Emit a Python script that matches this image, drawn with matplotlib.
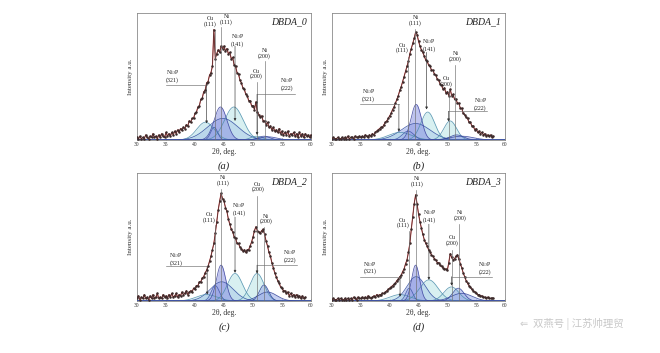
import numpy as np
import matplotlib
matplotlib.use("Agg")
import matplotlib.pyplot as plt

plt.rcParams['font.family'] = ['Liberation Serif', 'DejaVu Serif']
plt.rcParams['mathtext.fontset'] = 'stix'

# ---------------- data ----------------
x_start = 30.0
x_step = 0.25

int_a = [.02, .01, .03, .01, .02, .01, .04, .02, .01, .03, .02, .05, .02, .03, .01, .04,
         .02, .05, .03, .02, .06, .03, .05, .03, .06, .04, .07, .05, .08, .06, .09, .08,
         .10, .09, .12, .11, .15, .14, .17, .17, .21, .22, .26, .27, .32, .33, .38, .39,
         .45, .46, .51, .53, .58, .87, .64, .68, .71, .69, .74, .72, .74, .70, .72, .68,
         .69, .64, .65, .59, .58, .53, .52, .47, .45, .41, .40, .36, .35, .31, .31, .27,
         .27, .24, .30, .22, .20, .18, .19, .15, .15, .12, .14, .10, .11, .08, .10, .07,
         .08, .06, .09, .05, .07, .04, .06, .04, .07, .03, .05, .04, .06, .03, .05, .02,
         .06, .03, .05, .02, .05, .03, .04, .02, .04]

int_b = [.01, .02, .01, .01, .02, .01, .01, .02, .01, .02, .01, .03, .01, .02, .02, .01,
         .03, .02, .02, .03, .02, .03, .02, .04, .03, .02, .04, .03, .05, .04, .06, .07,
         .08, .09, .10, .10, .12, .14, .15, .17, .19, .21, .24, .26, .29, .32, .35, .39,
         .42, .46, .50, .54, .58, .62, .68, .72, .76, .80, .85, .83, .78, .74, .71, .69,
         .66, .63, .62, .59, .58, .55, .55, .52, .51, .48, .47, .44, .43, .40, .41, .37,
         .38, .35, .40, .35, .36, .32, .32, .29, .29, .25, .25, .21, .20, .18, .17, .14,
         .14, .11, .11, .08, .09, .06, .07, .05, .06, .04, .05, .03, .04, .03, .04, .02,
         .03]

int_c = [.02, .04, .01, .03, .02, .05, .02, .03, .01, .04, .02, .05, .02, .03, .06, .02,
         .03, .02, .05, .03, .04, .02, .05, .03, .06, .03, .04, .06, .03, .05, .04, .07,
         .05, .06, .08, .05, .07, .08, .07, .10, .09, .12, .12, .15, .15, .18, .19, .22,
         .24, .27, .31, .35, .40, .45, .53, .62, .71, .78, .84, .80, .78, .73, .70, .64,
         .60, .56, .54, .50, .49, .45, .45, .42, .41, .39, .40, .38, .40, .40, .43, .46,
         .50, .55, .58, .55, .54, .53, .55, .56, .52, .47, .43, .38, .35, .30, .26, .22,
         .19, .16, .14, .11, .10, .08, .08, .06, .07, .04, .06, .04, .05, .03, .05, .03,
         .04, .02, .04, .02, .03]

int_d = [.01, .02, .01, .01, .02, .01, .02, .01, .01, .02, .01, .02, .01, .02, .01, .03,
         .02, .01, .03, .02, .02, .03, .02, .03, .02, .04, .03, .02, .03, .04, .03, .05,
         .04, .05, .05, .06, .06, .07, .08, .09, .10, .11, .12, .13, .14, .16, .17, .19,
         .20, .23, .25, .29, .32, .38, .45, .56, .66, .76, .83, .76, .68, .62, .57, .52,
         .48, .45, .43, .40, .385, .36, .35, .33, .32, .30, .30, .28, .27, .26, .25, .25,
         .24, .30, .37, .34, .32, .33, .35, .36, .33, .29, .26, .22, .19, .16, .14, .12,
         .11, .09, .08, .07, .065, .05, .05, .04, .04, .03, .03, .02, .03, .02, .02, .02,
         .02]

# fitted peak components: Ni3P(321), Cu(111), Ni(111), Ni3P(141), Cu(200), Ni(200), Ni3P(222), broad
pk_center_a = [41.8, 43.3, 44.4, 46.7, 50.6, 51.9, 52.6, 44.8]
pk_height_a = [0.14, 0.10, 0.26, 0.26, 0.03, 0.03, 0.025, 0.17]
pk_width_a = [1.5, 0.6, 1.1, 1.6, 1.0, 1.0, 1.5, 2.6]

pk_center_b = [41.8, 43.2, 44.6, 46.6, 50.5, 51.6, 52.5, 44.5]
pk_height_b = [0.06, 0.07, 0.28, 0.22, 0.15, 0.04, 0.03, 0.13]
pk_width_b = [2.0, 1.0, 0.9, 1.2, 1.1, 1.2, 2.0, 2.5]

pk_center_c = [42.0, 43.5, 44.5, 46.9, 50.7, 51.9, 52.5, 44.6]
pk_height_c = [0.05, 0.12, 0.28, 0.215, 0.215, 0.125, 0.07, 0.15]
pk_width_c = [1.8, 0.7, 0.8, 1.3, 1.2, 0.8, 1.6, 2.0]

pk_center_d = [41.8, 43.4, 44.5, 46.8, 50.7, 51.9, 52.5, 44.6]
pk_height_d = [0.05, 0.10, 0.28, 0.165, 0.11, 0.10, 0.06, 0.19]
pk_width_d = [1.8, 0.6, 0.7, 1.6, 1.3, 1.0, 1.8, 1.6]

sample_names = ["DBDA_0", "DBDA_1", "DBDA_2", "DBDA_3"]
panel_letters = ["(a)", "(b)", "(c)", "(d)"]
peak_labels = ["Ni$_3$P\n(321)", "Cu\n(111)", "Ni\n(111)", "Ni$_3$P\n(141)",
               "Cu\n(200)", "Ni\n(200)", "Ni$_3$P\n(222)"]
x_ticks = [30, 35, 40, 45, 50, 55, 60]

# ---------------- layout / styling ----------------
W, H = 660, 353
fig = plt.figure(figsize=(W / 100, H / 100), dpi=100)

def fr(l, t, r, b):
    return [l / W, 1 - b / H, (r - l) / W, (b - t) / H]

rects = [fr(137, 13, 311, 140), fr(332, 13, 505, 140),
         fr(137, 173, 311, 301), fr(332, 173, 505, 301)]

fill_cols = ['#b6e0e8', '#9fb0e8', '#939ce4', '#bfe6e9', '#bfe6e9', '#9fb0e8', '#9fb0e8', '#99aae8']
edge_cols = ['#4f90ad', '#4158ab', '#3f46a0', '#4f90ad', '#4f90ad', '#33439b', '#33439b', '#3550a3']

# annotation layout per panel:
# each: (text_x, text_y, line_x, line_top, line_bottom, arrow, hx0, hx1)  (hx for elbow lines)
ann_layout = [
    [(36.1, 0.51, 42.0, 0.437, 0.13, True, 35.0, 42.0),
     (42.6, 0.935, 43.45, 0.86, 0.0, False, None, None),
     (45.45, 0.95, 44.4, 0.89, 0.0, False, None, None),
     (47.3, 0.79, 46.9, 0.74, 0.15, True, None, None),
     (50.6, 0.52, 50.7, 0.46, 0.0, False, None, None),
     (52.0, 0.68, 52.0, 0.62, 0.0, False, None, None),
     (55.9, 0.445, 50.7, 0.36, 0.04, True, 50.7, 57.3)],
    [(36.35, 0.36, 41.6, 0.28, 0.066, True, 34.8, 41.6),
     (42.1, 0.725, 43.2, 0.655, 0.0, False, None, None),
     (44.5, 0.94, 44.4, 0.875, 0.0, False, None, None),
     (46.85, 0.75, 46.4, 0.69, 0.24, True, None, None),
     (49.8, 0.46, 50.25, 0.39, 0.0, False, None, None),
     (51.4, 0.655, 51.4, 0.59, 0.0, False, None, None),
     (55.75, 0.29, 50.2, 0.225, 0.146, True, 50.2, 56.9)],
    [(36.7, 0.33, 42.1, 0.27, 0.05, True, 35.0, 42.1),
     (42.4, 0.655, 43.5, 0.59, 0.0, False, None, None),
     (44.8, 0.94, 44.5, 0.875, 0.0, False, None, None),
     (47.6, 0.72, 46.9, 0.655, 0.22, True, None, None),
     (50.8, 0.89, 50.7, 0.82, 0.0, False, None, None),
     (52.2, 0.64, 51.95, 0.575, 0.0, False, None, None),
     (56.3, 0.355, 50.7, 0.28, 0.215, True, 50.7, 57.6)],
    [(36.6, 0.265, 41.8, 0.19, 0.034, True, 34.9, 41.8),
     (42.25, 0.61, 43.4, 0.545, 0.0, False, None, None),
     (44.8, 0.935, 44.6, 0.87, 0.0, False, None, None),
     (46.9, 0.665, 46.8, 0.6, 0.165, True, None, None),
     (50.9, 0.47, 50.75, 0.40, 0.0, False, None, None),
     (52.2, 0.665, 52.1, 0.6, 0.0, False, None, None),
     (56.5, 0.26, 50.75, 0.19, 0.12, True, 50.75, 57.8)],
]

intens = [int_a, int_b, int_c, int_d]
centers = [pk_center_a, pk_center_b, pk_center_c, pk_center_d]
heights = [pk_height_a, pk_height_b, pk_height_c, pk_height_d]
widths = [pk_width_a, pk_width_b, pk_width_c, pk_width_d]

xg = np.linspace(30, 60, 601)
line_col = '#6e6e6e'

for i in range(4):
    ax = fig.add_axes(rects[i])
    y = np.array(intens[i])
    x = x_start + x_step * np.arange(len(y))

    # components
    order = [7, 0, 3, 4, 6, 5, 1, 2]
    for k in order:
        g = heights[i][k] * np.exp(-0.5 * ((xg - centers[i][k]) / widths[i][k]) ** 2)
        ax.fill_between(xg, 0, g, color=fill_cols[k], alpha=0.6, lw=0, zorder=2)
        ax.plot(xg, g, color=edge_cols[k], lw=0.55, alpha=0.9, zorder=3)

    # measured data + fit
    ax.plot(x, y, color='#d24a4a', lw=0.8, zorder=4)
    ax.plot(x, y, color='#3b2b2b', lw=0.45, marker='.', ms=1.6, zorder=5)

    # annotations
    for lab, (tx, ty, lx, ytop, ybot, arrow, hx0, hx1) in zip(peak_labels, ann_layout[i]):
        ax.text(tx, ty, lab, ha='center', va='center', fontsize=4.3, linespacing=1.0,
                color='#222222', zorder=7)
        if hx0 is not None:
            ax.plot([hx0, hx1], [ytop, ytop], color=line_col, lw=0.45, zorder=6)
        if arrow:
            ax.annotate('', xy=(lx, ybot), xytext=(lx, ytop),
                        arrowprops=dict(arrowstyle='-|>', lw=0.45, color='#333333',
                                        mutation_scale=3.5, shrinkA=0, shrinkB=0), zorder=6)
        else:
            ax.plot([lx, lx], [ytop, ybot], color=line_col, lw=0.45, zorder=6)

    ax.set_xlim(30, 60)
    ax.set_ylim(0, 1)
    ax.set_xticks(x_ticks)
    ax.set_xticklabels([str(t) for t in x_ticks])
    ax.set_yticks([])
    ax.tick_params(axis='x', direction='in', length=1.5, width=0.4, labelsize=4, pad=1.5,
                   colors='#333333')
    for s in ax.spines.values():
        s.set_color('#8a8a8a')
        s.set_linewidth(0.6)
    ax.set_xlabel("2θ, deg.", fontsize=5.5, labelpad=1, color='#333333')
    ax.set_ylabel("Intensity a.u.", fontsize=5, labelpad=3, color='#333333')
    ax.text(0.975, 0.93, sample_names[i], transform=ax.transAxes, ha='right', va='center',
            fontsize=7, style='italic', color='#222222')
    ax.text(0.5, -0.205, panel_letters[i], transform=ax.transAxes, ha='center', va='center',
            fontsize=7.5, style='italic', color='#222222')

fig.text(520 / W, 1 - 324 / H, "⇐", fontsize=7, color='#c8c8c8', ha='left', va='center',
         family=['DejaVu Sans'])
fig.text(533 / W, 1 - 324 / H, "双燕号 | 江苏帅理贸", fontsize=7.5, color='#c8c8c8',
         ha='left', va='center', family=['Noto Sans CJK SC', 'DejaVu Sans'])

fig.savefig("out.png", dpi=100)
